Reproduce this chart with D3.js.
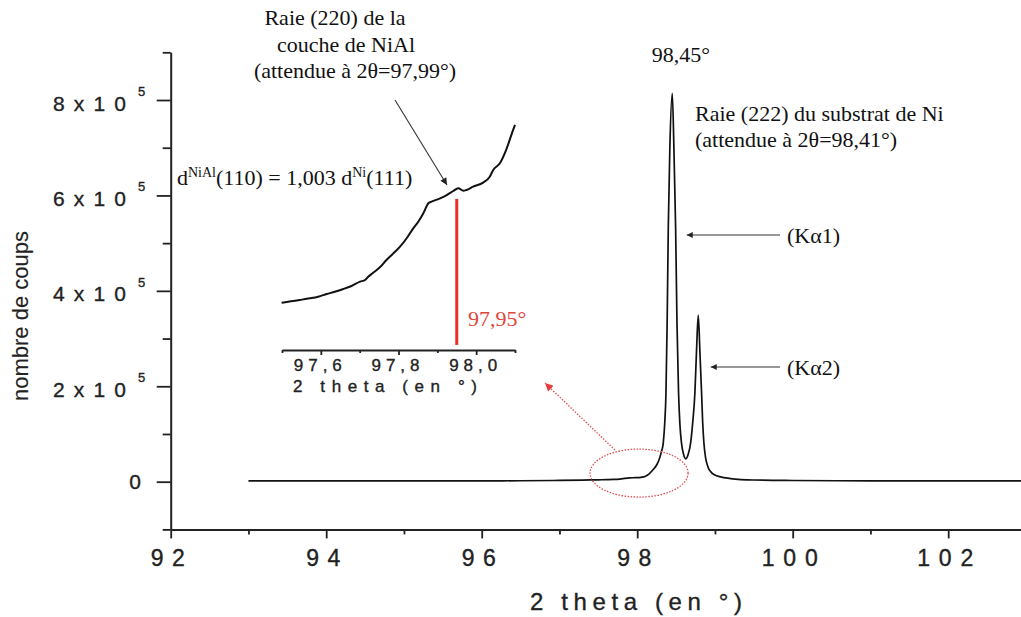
<!DOCTYPE html>
<html>
<head>
<meta charset="utf-8">
<script src="https://cdn.jsdelivr.net/npm/d3@7"></script>
<style>
  html, body { margin: 0; padding: 0; background: #fff; }
  svg { display: block; }
  .sans { font-family: "Liberation Sans", Arial, sans-serif; stroke: #222; stroke-width: 0.35px; }
  .serif { font-family: "Liberation Serif", "Times New Roman", serif; }
</style>
</head>
<body>
<svg id="chart" width="1021" height="617"></svg>
<script>
// ---------------- DATA ----------------
const mainTheta = [93.0, 94.0, 95.0, 96.0, 96.5, 97.0, 97.3, 97.5, 97.6, 97.7, 97.8, 97.9, 97.95, 98.0, 98.05, 98.1,
  98.15, 98.2, 98.25, 98.28, 98.31, 98.335, 98.355, 98.37, 98.385, 98.40, 98.42, 98.451, 98.472, 98.494, 98.512,
  98.532, 98.55, 98.57, 98.595, 98.625, 98.655, 98.687, 98.712, 98.742, 98.762, 98.785, 98.807, 98.828, 98.842,
  98.858, 98.88, 98.91, 98.95, 99.0, 99.06, 99.2, 99.5, 100.0, 101.0, 102.0, 103.0, 104.0];
const mainCounts = [1500, 1500, 1600, 1800, 2000, 2600, 3300, 3900, 4200, 4700, 6100, 8000, 8300, 8400, 9200, 10900,
  16000, 24500, 35000, 45500, 62000, 81000, 125000, 186000, 330000, 534000, 700000, 814000, 700000, 534000, 330000,
  186000, 118000, 81000, 58000, 48000, 57000, 81000, 120000, 186000, 270000, 349000, 270000, 186000, 125000,
  81000, 50000, 31000, 20000, 14000, 10500, 6500, 3500, 2500, 1800, 1500, 1500, 1500];

const insetTheta = [97.499, 97.516, 97.529, 97.546, 97.572, 97.593, 97.615, 97.636, 97.658, 97.679, 97.701, 97.714,
  97.722, 97.735, 97.752, 97.769, 97.787, 97.804, 97.821, 97.838, 97.851, 97.864, 97.877, 97.885, 97.907, 97.924,
  97.941, 97.954, 97.967, 97.975, 97.992, 98.018, 98.035, 98.044, 98.061, 98.077, 98.095, 98.10];
const insetCounts = [3860, 3900, 3930, 3970, 4035, 4100, 4205, 4295, 4400, 4520, 4690, 4756,
  4886, 5043, 5256, 5543, 5807, 6067, 6398, 6791, 7051, 7382, 7776, 7839, 7972, 8102,
  8260, 8370, 8270, 8300, 8430, 8590, 8820, 9090, 9350, 9870, 10660, 10860];

const xMajorTicks = [92, 94, 96, 98, 100, 102];
const xMinorTicks = [93, 95, 97, 99, 101, 103];
const xTickLabels = ["92", "94", "96", "98", "100", "102"];
const yMajorTicks = [0, 200000, 400000, 600000, 800000];
const yMinorTicks = [-100000, 100000, 300000, 500000, 700000, 900000];
const yTickMantissa = ["0", "2", "4", "6", "8"];
const insetMajorTicks = [97.6, 97.8, 98.0];
const insetMinorTicks = [97.5, 97.7, 97.9, 98.1];
const insetTickLabels = ["97,6", "97,8", "98,0"];
const peakKa1 = 98.451, peakKa2 = 98.785, nialMarker = 97.95;

// ---------------- SETUP ----------------
const svg = d3.select("#chart");
svg.append("rect").attr("width", 1021).attr("height", 617).attr("fill", "#fff");

const x = d3.scaleLinear().domain([92, 104]).range([170.7, 1103.7]);
const y = d3.scaleLinear().domain([-100000, 900000]).range([529.4, 52.3]);

const defs = svg.append("defs");
function marker(id, color, w, h) {
  defs.append("marker").attr("id", id).attr("viewBox", "0 0 10 10")
    .attr("refX", 10).attr("refY", 5).attr("markerUnits", "userSpaceOnUse")
    .attr("markerWidth", w).attr("markerHeight", h).attr("orient", "auto")
    .append("path").attr("d", "M0,0 L10,5 L0,10 z").attr("fill", color);
}
marker("arrBlack", "#222", 8, 6);
marker("arrBig", "#222", 10, 7);
marker("arrRed", "#e23c3c", 10, 8);

// ---------------- AXES ----------------
const axisStyle = g => {
  g.selectAll("path.domain").attr("stroke", "#222").attr("stroke-width", 2);
  g.selectAll(".tick line").attr("stroke", "#222").attr("stroke-width", 1.8);
};
svg.append("g").attr("transform", `translate(${x(92)},0)`)
  .call(d3.axisLeft(y).tickValues(yMajorTicks).tickSize(14).tickSizeOuter(0).tickFormat(""))
  .call(axisStyle);
svg.append("g").attr("transform", `translate(${x(92)},0)`)
  .call(d3.axisLeft(y).tickValues(yMinorTicks).tickSize(8).tickSizeOuter(0).tickFormat(""))
  .call(axisStyle).select("path.domain").remove();

svg.append("g").attr("transform", `translate(0,${y(-100000)})`)
  .call(d3.axisBottom(x).tickValues(xMajorTicks).tickSize(9).tickSizeOuter(0).tickFormat(""))
  .call(axisStyle);
svg.append("g").attr("transform", `translate(0,${y(-100000)})`)
  .call(d3.axisBottom(x).tickValues(xMinorTicks).tickSize(5).tickSizeOuter(0).tickFormat(""))
  .call(axisStyle).select("path.domain").remove();

// x tick labels
xMajorTicks.forEach((v, i) => {
  const lab = xTickLabels[i];
  const w = lab.length === 2 ? 34 : 56;
  svg.append("text").attr("class", "sans")
    .attr("x", x(v) - 3 - w / 2).attr("y", 566)
    .attr("font-size", 23).attr("fill", "#222")
    .attr("textLength", w).attr("lengthAdjust", "spacing")
    .text(lab);
});
// y tick labels
yMajorTicks.forEach((v, i) => {
  const ty = y(v);
  if (v === 0) {
    svg.append("text").attr("class", "sans").attr("x", 141).attr("y", ty + 7.5)
      .attr("text-anchor", "end").attr("font-size", 21).attr("fill", "#222").text("0");
  } else {
    svg.append("text").attr("class", "sans").attr("x", 53).attr("y", ty + 10.5)
      .attr("font-size", 21).attr("fill", "#222")
      .attr("textLength", 73).attr("lengthAdjust", "spacing")
      .text(yTickMantissa[i] + "x10");
    svg.append("text").attr("class", "sans").attr("x", 138).attr("y", ty - 4)
      .attr("font-size", 13).attr("fill", "#222").text("5");
  }
});

// axis titles
svg.append("text").attr("class", "sans").attr("x", 530).attr("y", 610)
  .attr("font-size", 24).attr("fill", "#222")
  .attr("textLength", 212).attr("lengthAdjust", "spacing").text("2 theta (en °)");
svg.append("text").attr("class", "sans").style("stroke-width", "0.15px")
  .attr("transform", "translate(28,316) rotate(-90)")
  .attr("text-anchor", "middle").attr("font-size", 22).attr("fill", "#222")
  .text("nombre de coups");

// ---------------- MAIN CURVE ----------------
const mainData = mainTheta.map((t, i) => [t, mainCounts[i]]);
svg.append("path").datum(mainData)
  .attr("fill", "none").attr("stroke", "#111").attr("stroke-width", 1.7)
  .attr("d", d3.line().x(d => x(d[0])).y(d => y(d[1])).curve(d3.curveMonotoneX));

// ---------------- INSET ----------------
const xi = d3.scaleLinear().domain([97.5, 98.1]).range([282, 515]);
const yi = d3.scaleLinear().domain([2000, 12000]).range([350, 96]);

svg.append("g").attr("transform", `translate(0,${yi(2000)})`)
  .call(d3.axisBottom(xi).tickValues(insetMajorTicks).tickSize(5).tickSizeOuter(0).tickFormat(""))
  .call(axisStyle);
svg.append("g").attr("transform", `translate(0,${yi(2000)})`)
  .call(d3.axisBottom(xi).tickValues(insetMinorTicks).tickSize(3).tickSizeOuter(0).tickFormat(""))
  .call(axisStyle).select("path.domain").remove();

insetMajorTicks.forEach((v, i) => {
  svg.append("text").attr("class", "sans")
    .attr("x", xi(v) - 3 - 24).attr("y", 371)
    .attr("font-size", 17).attr("fill", "#222")
    .attr("textLength", 48).attr("lengthAdjust", "spacing")
    .text(insetTickLabels[i]);
});
svg.append("text").attr("class", "sans").attr("x", 293).attr("y", 392)
  .attr("font-size", 17).attr("fill", "#222")
  .attr("textLength", 184).attr("lengthAdjust", "spacing").text("2 theta (en °)");

const insetData = insetTheta.map((t, i) => [t, insetCounts[i]]);
svg.append("path").datum(insetData)
  .attr("fill", "none").attr("stroke", "#111").attr("stroke-width", 2)
  .attr("d", d3.line().x(d => xi(d[0])).y(d => yi(d[1])).curve(d3.curveMonotoneX));

// red marker line at 97,95°
svg.append("line")
  .attr("x1", xi(nialMarker)).attr("x2", xi(nialMarker))
  .attr("y1", yi(2200)).attr("y2", yi(7950))
  .attr("stroke", "#e8302a").attr("stroke-width", 3);
svg.append("text").attr("class", "serif").attr("x", 468).attr("y", 326)
  .attr("font-size", 22).attr("fill", "#e0473c").text("97,95°");

// ---------------- ANNOTATIONS ----------------
const serif = (txt, xx, yy, anchor) => svg.append("text").attr("class", "serif")
  .attr("x", xx).attr("y", yy).attr("text-anchor", anchor || "start")
  .attr("font-size", 22).attr("fill", "#111").text(txt);

serif("Raie (220) de la", 335, 25, "middle");
serif("couche de NiAl", 346, 52, "middle");
serif("(attendue à 2θ=97,99°)", 355, 78, "middle");

const dt = svg.append("text").attr("class", "serif").attr("x", 177).attr("y", 185)
  .attr("font-size", 22).attr("fill", "#111");
dt.append("tspan").text("d");
dt.append("tspan").attr("font-size", 14).attr("dy", -8).text("NiAl");
dt.append("tspan").attr("dy", 8).text("(110) = 1,003 d");
dt.append("tspan").attr("font-size", 14).attr("dy", -8).text("Ni");
dt.append("tspan").attr("dy", 8).text("(111)");

svg.append("line").attr("x1", 395).attr("y1", 100).attr("x2", 447).attr("y2", 185)
  .attr("stroke", "#333").attr("stroke-width", 1.1).attr("marker-end", "url(#arrBig)");

serif("98,45°", 681, 62, "middle");
serif("Raie (222) du substrat de Ni", 695, 121);
serif("(attendue à 2θ=98,41°)", 695, 147);

// K alpha arrows
svg.append("line").attr("x1", x(99.837)).attr("x2", x(peakKa1) + 14.5)
  .attr("y1", y(517000)).attr("y2", y(517000))
  .attr("stroke", "#333").attr("stroke-width", 1.1).attr("marker-end", "url(#arrBlack)");
serif("(Kα1)", 787, 243);
svg.append("line").attr("x1", x(99.837)).attr("x2", x(peakKa2) + 12.5)
  .attr("y1", y(240400)).attr("y2", y(240400))
  .attr("stroke", "#333").attr("stroke-width", 1.1).attr("marker-end", "url(#arrBlack)");
serif("(Kα2)", 787, 375);

// red dotted ellipse and arrow
svg.append("ellipse").attr("cx", x(98.024)).attr("cy", y(18000)).attr("rx", 49).attr("ry", 24)
  .attr("fill", "none").attr("stroke", "#e34b4b").attr("stroke-width", 1.3)
  .attr("stroke-dasharray", "1.5,1.5");
svg.append("line").attr("x1", 615).attr("y1", 450).attr("x2", 545).attr("y2", 383)
  .attr("stroke", "#e34b4b").attr("stroke-width", 1.3).attr("stroke-dasharray", "1.5,1.5")
  .attr("marker-end", "url(#arrRed)");
</script>
</body>
</html>
